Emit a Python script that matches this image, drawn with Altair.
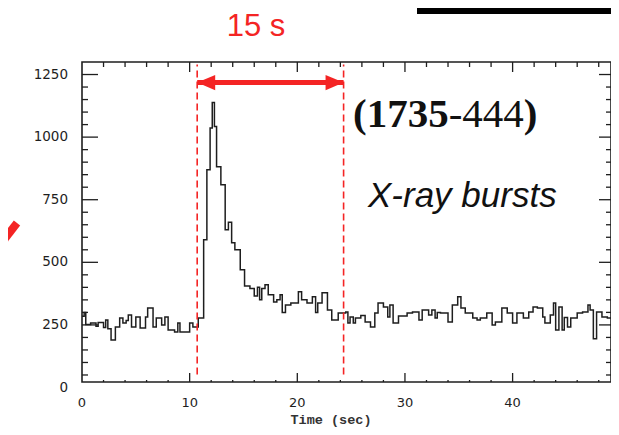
import altair as alt
import pandas as pd

# ---- light curve (step start times in s, counts) ----
t_start = [0.0, 0.2, 0.35, 0.8, 1.3, 1.5, 2.0, 2.2, 2.4, 2.7, 3.1, 3.5, 3.8, 4.1, 4.3, 4.6, 5.0, 5.4, 5.9, 6.1,
           6.6, 6.9, 7.4, 7.7, 8.0, 8.6, 8.9, 9.1, 10.0, 10.3, 10.8, 11.3, 11.6, 11.9, 12.1, 12.3, 12.5, 12.9,
           13.3, 13.6, 13.9, 14.2, 14.7, 15.1, 15.6, 16.0, 16.3, 16.5, 16.7, 17.0, 17.3, 17.8, 18.1, 18.4,
           18.6, 18.9, 19.4, 20.1, 20.4, 20.9, 21.4, 21.7, 21.9, 22.3, 22.8, 23.2, 23.8, 24.5, 24.7, 24.9,
           25.2, 25.4, 25.9, 26.3, 26.8, 27.2, 27.5, 28.0, 28.4, 28.6, 28.9, 29.4, 30.2, 30.7, 31.3, 31.6,
           32.2, 32.5, 32.8, 33.0, 33.3, 34.0, 34.4, 34.9, 35.2, 35.6, 36.3, 36.7, 37.0, 37.6, 38.1, 38.4,
           39.0, 39.5, 40.0, 40.4, 41.0, 41.5, 41.9, 42.3, 42.8, 43.0, 43.5, 43.8, 44.0, 44.3, 44.6, 44.8,
           45.1, 45.4, 46.0, 46.5, 47.0, 47.2, 47.5, 47.8, 48.3, 48.8, 49.4, 49.7]
counts = [285, 300, 252, 258, 245, 260, 240, 270, 235, 190, 242, 278, 258, 268, 290, 242, 282, 238, 282, 318,
          242, 278, 250, 282, 230, 222, 258, 222, 258, 242, 278, 590, 870, 1036, 1138, 1042, 882, 810,
          630, 660, 578, 550, 470, 405, 395, 365, 400, 350, 395, 410, 370, 342, 350, 370,
          300, 330, 338, 382, 350, 338, 362, 300, 338, 378, 310, 270, 298, 302, 258, 282,
          258, 278, 288, 262, 242, 298, 338, 322, 282, 330, 258, 286, 298, 302, 270, 310,
          290, 310, 278, 300, 298, 262, 330, 362, 318, 298, 278, 270, 278, 298, 250, 262,
          318, 298, 258, 298, 278, 302, 322, 318, 282, 258, 290, 338, 230, 322, 230, 280,
          242, 278, 298, 302, 330, 310, 195, 302, 282, 278, 290, 290]

x_major = [10, 20, 30, 40]
x_minor = [2, 4, 6, 8, 12, 14, 16, 18, 22, 24, 26, 28, 32, 34, 36, 38, 42, 44, 46, 48]
y_major = [250, 500, 750, 1000, 1250]
y_minor = [50, 100, 150, 200, 300, 350, 400, 450, 550, 600, 650, 700, 800, 850, 900, 950,
           1050, 1100, 1150, 1200]
x_tick_labels = [0, 10, 20, 30, 40]
y_tick_labels = [0, 250, 500, 750, 1000, 1250]
burst_window = [10.7, 24.3]
arrow_level = [1218]
dash_span = [52, 1290]

RED = "#f42424"
INK = "#1e1e1e"
W, H = 529, 320

xs = alt.Scale(domain=[0, 49.14], nice=False, zero=False)
ys = alt.Scale(domain=[22, 1300], nice=False, zero=False)


def X(field="t"):
    return alt.X(f"{field}:Q", scale=xs, axis=None)


def Y(field="v"):
    return alt.Y(f"{field}:Q", scale=ys, axis=None)


curve = alt.Chart(pd.DataFrame({"t": t_start, "v": counts})).mark_line(
    interpolate="step-after", color=INK, strokeWidth=1.5, clip=True
).encode(x=X(), y=Y())

# red dashed window lines
dash_df = pd.DataFrame({"t": burst_window, "v": [dash_span[0]] * 2, "v2": [dash_span[1]] * 2})
dashes = alt.Chart(dash_df).mark_rule(color=RED, strokeDash=[7, 4], strokeWidth=1.6).encode(
    x=X(), y=Y(), y2="v2:Q"
)

# double arrow
shaft_df = pd.DataFrame({"t": [burst_window[0]], "t2": [burst_window[1]], "v": arrow_level})
shaft = alt.Chart(shaft_df).mark_rule(color=RED, strokeWidth=5).encode(x=X(), x2="t2:Q", y=Y())
head_l = alt.Chart(pd.DataFrame({"t": [burst_window[0]], "v": arrow_level})).mark_point(
    shape="M-1,0L1,-0.85L1,0.85Z", filled=True, color=RED, opacity=1, size=324, xOffset=9
).encode(x=X(), y=Y())
head_r = alt.Chart(pd.DataFrame({"t": [burst_window[1]], "v": arrow_level})).mark_point(
    shape="M1,0L-1,-0.85L-1,0.85Z", filled=True, color=RED, opacity=1, size=324, xOffset=-9
).encode(x=X(), y=Y())


# inward ticks
def yticks(vals, x0, x1):
    return alt.Chart(pd.DataFrame({"v": vals})).mark_rule(color=INK, strokeWidth=1.3).encode(
        y=Y(), x=alt.value(x0), x2=alt.value(x1))


def xticks(vals, y0, y1):
    return alt.Chart(pd.DataFrame({"t": vals})).mark_rule(color=INK, strokeWidth=1.3).encode(
        x=X(), y=alt.value(y0), y2=alt.value(y1))


ticks = [
    yticks(y_major, 0, 16), yticks(y_minor, 0, 6),
    yticks(y_major, W, W - 12), yticks(y_minor, W, W - 5),
    xticks(x_major, 0, 10), xticks(x_minor, 0, 5),
    xticks(x_major, H, H - 9), xticks(x_minor, H, H - 2),
]

ylab = alt.Chart(pd.DataFrame({"v": y_tick_labels})).mark_text(
    align="right", baseline="middle", font="DejaVu Sans", fontSize=13.5, color=INK
).encode(y=Y(), x=alt.value(-14), text="v:Q")
xlab = alt.Chart(pd.DataFrame({"t": x_tick_labels})).mark_text(
    align="center", baseline="middle", font="DejaVu Sans", fontSize=13, color=INK
).encode(x=X(), y=alt.value(H + 21), text="t:Q")

xtitle = alt.Chart(pd.DataFrame({"s": ["Time (sec)"]})).mark_text(
    align="center", baseline="middle", font="Liberation Mono", fontSize=13.5, fontWeight="bold", color="#333"
).encode(x=alt.value(249), y=alt.value(H + 38), text="s:N")


def label(txt, x, y, **kw):
    return alt.Chart(pd.DataFrame({"s": [txt]})).mark_text(baseline="alphabetic", **kw).encode(
        x=alt.value(x), y=alt.value(y), text="s:N")


FS = 41
src1 = label("(1735", 271, 65, align="left", font="Liberation Serif", fontSize=FS, fontWeight="bold", color="#111")
src2 = label("-444", 271 + 2.333 * FS, 65, align="left", font="Liberation Serif", fontSize=FS, color="#111")
src3 = label(")", 271 + 4.166 * FS, 65, align="left", font="Liberation Serif", fontSize=FS, fontWeight="bold", color="#111")
xray = label("X-ray bursts", 286, 145, align="left", font="Liberation Sans", fontSize=35, fontStyle="italic", color="#111")
title = label("15 s", 174, -26, align="center", font="Liberation Sans", fontSize=31, color=RED)

bar = alt.Chart(pd.DataFrame({"k": [1]})).mark_rect(color="black").encode(
    x=alt.value(335), x2=alt.value(W + 10), y=alt.value(-62), y2=alt.value(-48))
slash = alt.Chart(pd.DataFrame({"k": [1]})).mark_rule(color=RED, strokeWidth=8, strokeCap="butt").encode(
    x=alt.value(-82), y=alt.value(183), x2=alt.value(-65), y2=alt.value(161))

chart = alt.layer(
    curve, dashes, shaft, head_l, head_r, *ticks, ylab, xlab, xtitle,
    src1, src2, src3, xray, title, bar, slash
).properties(
    width=W, height=H,
    autosize=alt.AutoSizeParams(type="none"),
    padding={"left": 74, "top": 54, "right": 0, "bottom": 45},
    background="white",
).configure_view(stroke=INK, strokeWidth=1.6)

chart.save("out.html", embed_options={"renderer": "svg", "actions": False})
